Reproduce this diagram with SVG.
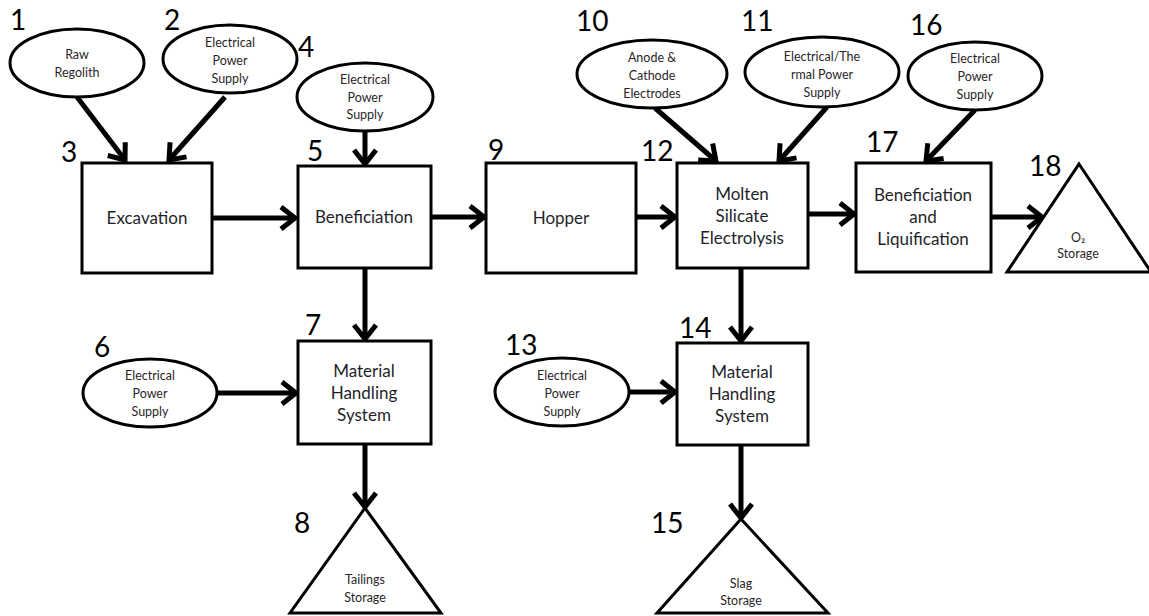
<svg xmlns="http://www.w3.org/2000/svg" width="1149" height="616" viewBox="0 0 1149 616">
<defs>
<marker id="ah" markerUnits="userSpaceOnUse" markerWidth="40" markerHeight="40" viewBox="-20 -20 40 40" refX="0" refY="0" orient="auto">
<path d="M -14 -11 L 0 0 L -14 11" fill="none" stroke="#000" stroke-width="5" stroke-linejoin="miter"/>
</marker>
</defs>
<style>
.box{fill:#fff;stroke:#000;stroke-width:3}
.ell{fill:#fff;stroke:#000;stroke-width:3}
.num{font-family:Lato,"Liberation Sans",sans-serif;font-size:28px;fill:#000}
.bt{font-family:Lato,"Liberation Sans",sans-serif;font-size:17px;fill:#1f1f2a;text-anchor:middle}
.et{font-family:Lato,"Liberation Sans",sans-serif;font-size:12.5px;fill:#2a1f2a;text-anchor:middle}
.con line{stroke:#000;stroke-width:5;marker-end:url(#ah)}
</style>
<rect width="1149" height="616" fill="#fff"/>
<g class="con" id="connectors">
<line x1="77" y1="97" x2="125" y2="160"/>
<line x1="225" y1="97" x2="169" y2="160"/>
<line x1="212" y1="218" x2="295" y2="218"/>
<line x1="365" y1="131" x2="365" y2="164"/>
<line x1="431" y1="217" x2="484" y2="217"/>
<line x1="636" y1="217" x2="675" y2="217"/>
<line x1="655" y1="108" x2="716" y2="161"/>
<line x1="827" y1="107" x2="779" y2="161"/>
<line x1="808" y1="214" x2="854" y2="214"/>
<line x1="975" y1="110" x2="926" y2="161"/>
<line x1="991" y1="217" x2="1042" y2="217"/>
<line x1="365" y1="268" x2="365" y2="339"/>
<line x1="217" y1="393" x2="296" y2="393"/>
<line x1="365" y1="444" x2="365" y2="507"/>
<line x1="741" y1="268" x2="741" y2="341"/>
<line x1="630" y1="392" x2="675" y2="392"/>
<line x1="741" y1="445" x2="741" y2="518"/>
</g>
<g id="n1"><ellipse class="ell" cx="77" cy="63" rx="67" ry="34"/><text class="et" x="77" y="59">Raw</text><text class="et" x="77" y="77">Regolith</text><text class="num" x="10" y="30">1</text></g>
<g id="n2"><ellipse class="ell" cx="230" cy="59" rx="67" ry="34"/><text class="et" x="230" y="47">Electrical</text><text class="et" x="230" y="65">Power</text><text class="et" x="230" y="83">Supply</text><text class="num" x="164" y="30">2</text></g>
<g id="n3"><rect class="box" x="82" y="163" width="130" height="110"/><text class="bt" x="147" y="224">Excavation</text><text class="num" x="61" y="162">3</text></g>
<g id="n4"><ellipse class="ell" cx="365" cy="97" rx="68" ry="34"/><text class="et" x="365" y="84">Electrical</text><text class="et" x="365" y="102">Power</text><text class="et" x="365" y="119">Supply</text><text class="num" x="298" y="57">4</text></g>
<g id="n5"><rect class="box" x="298" y="166" width="133" height="102"/><text class="bt" x="364" y="223">Beneficiation</text><text class="num" x="307" y="161">5</text></g>
<g id="n6"><ellipse class="ell" cx="150" cy="393" rx="67" ry="34"/><text class="et" x="150" y="380">Electrical</text><text class="et" x="150" y="398">Power</text><text class="et" x="150" y="416">Supply</text><text class="num" x="94" y="357">6</text></g>
<g id="n7"><rect class="box" x="298" y="341" width="133" height="103"/><text class="bt" x="364" y="377">Material</text><text class="bt" x="364" y="399">Handling</text><text class="bt" x="364" y="421">System</text><text class="num" x="305" y="335">7</text></g>
<g id="n8"><polygon class="box" points="365,508 441,613 290,613"/><text class="et" x="365" y="584">Tailings</text><text class="et" x="365" y="602">Storage</text><text class="num" x="294" y="533">8</text></g>
<g id="n9"><rect class="box" x="486" y="163" width="150" height="110"/><text class="bt" x="561" y="224">Hopper</text><text class="num" x="488" y="160">9</text></g>
<g id="n10"><ellipse class="ell" cx="652" cy="74" rx="75" ry="34"/><text class="et" x="652" y="62">Anode &amp;</text><text class="et" x="652" y="80">Cathode</text><text class="et" x="652" y="98">Electrodes</text><text class="num" x="576" y="31">10</text></g>
<g id="n11"><ellipse class="ell" cx="822" cy="72" rx="77" ry="35"/><text class="et" x="822" y="61">Electrical/The</text><text class="et" x="822" y="79">rmal Power</text><text class="et" x="822" y="97">Supply</text><text class="num" x="741" y="31">11</text></g>
<g id="n12"><rect class="box" x="677" y="163" width="131" height="105"/><text class="bt" x="742" y="200">Molten</text><text class="bt" x="742" y="222">Silicate</text><text class="bt" x="742" y="244">Electrolysis</text><text class="num" x="641" y="161">12</text></g>
<g id="n13"><ellipse class="ell" cx="562" cy="392" rx="67" ry="34"/><text class="et" x="562" y="380">Electrical</text><text class="et" x="562" y="398">Power</text><text class="et" x="562" y="416">Supply</text><text class="num" x="505" y="355">13</text></g>
<g id="n14"><rect class="box" x="677" y="343" width="131" height="102"/><text class="bt" x="742" y="378">Material</text><text class="bt" x="742" y="400">Handling</text><text class="bt" x="742" y="422">System</text><text class="num" x="679" y="338">14</text></g>
<g id="n15"><polygon class="box" points="741,519 828,613 657,613"/><text class="et" x="741" y="588">Slag</text><text class="et" x="741" y="605">Storage</text><text class="num" x="651" y="533">15</text></g>
<g id="n16"><ellipse class="ell" cx="975" cy="76" rx="67" ry="34"/><text class="et" x="975" y="63">Electrical</text><text class="et" x="975" y="81">Power</text><text class="et" x="975" y="99">Supply</text><text class="num" x="910" y="35">16</text></g>
<g id="n17"><rect class="box" x="856" y="163" width="135" height="109"/><text class="bt" x="923" y="201">Beneficiation</text><text class="bt" x="923" y="223">and</text><text class="bt" x="923" y="245">Liquification</text><text class="num" x="866" y="152">17</text></g>
<g id="n18"><polygon class="box" points="1079,164 1151,272 1007,272"/><text class="et" x="1078" y="242">O₂</text><text class="et" x="1078" y="258">Storage</text><text class="num" x="1029" y="176">18</text></g>
</svg>
